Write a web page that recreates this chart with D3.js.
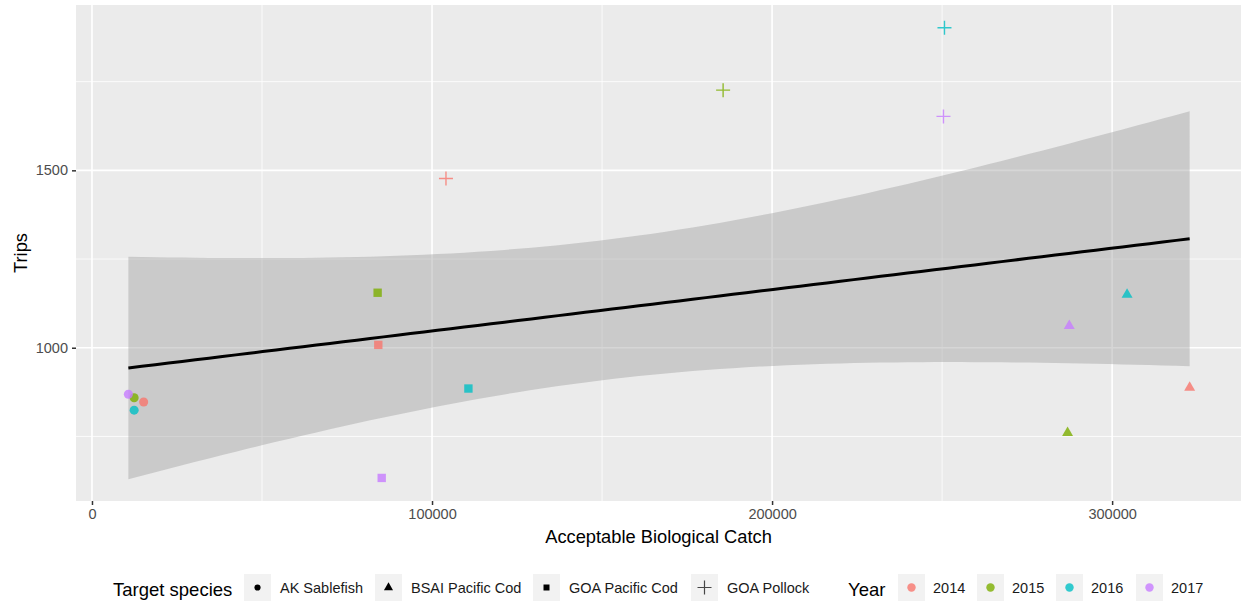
<!DOCTYPE html>
<html>
<head>
<meta charset="utf-8">
<script src="https://cdn.jsdelivr.net/npm/d3@7"></script>
<style>
  body { margin: 0; background: #fff; }
  svg { display: block; font-family: "Liberation Sans", Arial, sans-serif; }
</style>
</head>
<body>
<svg id="chart" width="1241" height="607"></svg>
<script>
// data
const species = ['AK Sablefish', 'BSAI Pacific Cod', 'GOA Pacific Cod', 'GOA Pollock'];
const years = ['2014', '2015', '2016', '2017'];
const yearColors = ['#F8766D', '#7CAE00', '#00BFC4', '#C77CFF'];

// one array per species, ordered by year 2014..2017
const abcSablefish = [15200, 12400, 12400, 10700];
const tripsSablefish = [847, 859, 824, 869];
const abcBsaiCod = [322800, 286900, 304400, 287400];
const tripsBsaiCod = [888, 760, 1150, 1062];
const abcGoaCod = [84200, 84000, 110700, 85200];
const tripsGoaCod = [1008, 1155, 885, 633];
const abcPollock = [104100, 185600, 250700, 250400];
const tripsPollock = [1477, 1726, 1902, 1652];

const xTicks = [0, 100000, 200000, 300000];
const yTicks = [1000, 1500];
const xMinor = [50000, 150000, 250000];
const yMinor = [750, 1250, 1750];

const abcBySpecies = [abcSablefish, abcBsaiCod, abcGoaCod, abcPollock];
const tripsBySpecies = [tripsSablefish, tripsBsaiCod, tripsGoaCod, tripsPollock];

let points = [];
species.forEach(function(s, i) {
	years.forEach(function(y, j) {
		points.push({species: s, year: y, x: abcBySpecies[i][j], y: tripsBySpecies[i][j]});
	});
});

const panel = {left: 76, right: 1241, top: 5, bottom: 501};

const x = d3.scaleLinear().domain([-4700, 337900]).range([panel.left, panel.right]);
const y = d3.scaleLinear().domain([568, 1966]).range([panel.bottom, panel.top]);

const color = d3.scaleOrdinal().domain(years).range(yearColors);
const shape = d3.scaleOrdinal().domain(species)
	.range([d3.symbolCircle, d3.symbolTriangle, d3.symbolSquare, null]);

const svg = d3.select('#chart');

// panel
svg.append('rect')
	.attr('x', panel.left).attr('y', panel.top)
	.attr('width', panel.right - panel.left).attr('height', panel.bottom - panel.top)
	.attr('fill', '#EBEBEB');

const grid = svg.append('g');

grid.selectAll('.xminor').data(xMinor).enter().append('line')
	.attr('x1', d => x(d)).attr('x2', d => x(d))
	.attr('y1', panel.top).attr('y2', panel.bottom)
	.attr('stroke', '#fff').attr('stroke-width', 0.8);
grid.selectAll('.yminor').data(yMinor).enter().append('line')
	.attr('y1', d => y(d)).attr('y2', d => y(d))
	.attr('x1', panel.left).attr('x2', panel.right)
	.attr('stroke', '#fff').attr('stroke-width', 0.8);
grid.selectAll('.xmajor').data(xTicks).enter().append('line')
	.attr('x1', d => x(d)).attr('x2', d => x(d))
	.attr('y1', panel.top).attr('y2', panel.bottom)
	.attr('stroke', '#fff').attr('stroke-width', 1.6);
grid.selectAll('.ymajor').data(yTicks).enter().append('line')
	.attr('y1', d => y(d)).attr('y2', d => y(d))
	.attr('x1', panel.left).attr('x2', panel.right)
	.attr('stroke', '#fff').attr('stroke-width', 1.6);

// linear fit with 95% confidence band (like geom_smooth(method = "lm"))
const n = points.length;
const xbar = d3.mean(points, d => d.x);
const ybar = d3.mean(points, d => d.y);
const sxx = d3.sum(points, d => (d.x - xbar) * (d.x - xbar));
const sxy = d3.sum(points, d => (d.x - xbar) * (d.y - ybar));
const slope = sxy / sxx;
const intercept = ybar - slope * xbar;
const rss = d3.sum(points, d => Math.pow(d.y - intercept - slope * d.x, 2));
const sigma = Math.sqrt(rss / (n - 2));
const tCrit = 2.144787; // qt(0.975, 14)

const xExtent = d3.extent(points, d => d.x);
const fit = d3.range(80).map(function(i) {
	let xv = xExtent[0] + (xExtent[1] - xExtent[0]) * i / 79;
	let fitted = intercept + slope * xv;
	let se = sigma * Math.sqrt(1 / n + (xv - xbar) * (xv - xbar) / sxx);
	return {x: xv, y: fitted, lo: fitted - tCrit * se, hi: fitted + tCrit * se};
});

svg.append('path')
	.datum(fit)
	.attr('d', d3.area().x(d => x(d.x)).y0(d => y(d.lo)).y1(d => y(d.hi)))
	.attr('fill', '#999999').attr('fill-opacity', 0.4);

svg.append('path')
	.datum(fit)
	.attr('d', d3.line().x(d => x(d.x)).y(d => y(d.y)))
	.attr('fill', 'none').attr('stroke', '#000').attr('stroke-width', 3);

// points
svg.append('g').selectAll('.pt').data(points).enter().append('path')
	.attr('transform', d => 'translate(' + x(d.x) + ',' + y(d.y) + ')')
	.attr('opacity', 0.8)
	.attr('d', function(d) {
		if (d.species == 'GOA Pollock') {
			return 'M-7,0H7M0,-7V7';
		}
		let size = d.species == 'AK Sablefish' ? 64 : (d.species == 'BSAI Pacific Cod' ? 52 : 70);
		return d3.symbol().type(shape(d.species)).size(size)();
	})
	.attr('fill', d => d.species == 'GOA Pollock' ? 'none' : color(d.year))
	.attr('stroke', d => d.species == 'GOA Pollock' ? color(d.year) : 'none')
	.attr('stroke-width', 1.4);

// axes
const xAxis = svg.append('g')
	.attr('transform', 'translate(0,' + panel.bottom + ')')
	.call(d3.axisBottom(x).tickValues(xTicks).tickFormat(d3.format('d')).tickSize(4).tickPadding(4));
const yAxis = svg.append('g')
	.attr('transform', 'translate(' + panel.left + ',0)')
	.call(d3.axisLeft(y).tickValues(yTicks).tickFormat(d3.format('d')).tickSize(4).tickPadding(4));

[xAxis, yAxis].forEach(function(a) {
	a.select('.domain').remove();
	a.selectAll('.tick line').attr('stroke', '#333').attr('stroke-width', 1.5);
	a.selectAll('.tick text').attr('fill', '#4D4D4D').style('font-size', '14.5px');
});

svg.append('text')
	.attr('x', (panel.left + panel.right) / 2).attr('y', 543)
	.attr('text-anchor', 'middle')
	.style('font-size', '18.3px')
	.text('Acceptable Biological Catch');

svg.append('text')
	.attr('transform', 'translate(27,' + (panel.top + panel.bottom) / 2 + ') rotate(-90)')
	.attr('text-anchor', 'middle')
	.style('font-size', '18.3px')
	.text('Trips');

// legends
const keyTop = 574;
const keySize = 27;

const leg = svg.append('g');

leg.append('text')
	.attr('x', 113).attr('y', 596)
	.style('font-size', '18.5px')
	.text('Target species');

const speciesKeyX = [244, 375, 533, 691];
species.forEach(function(s, i) {
	let g = leg.append('g').attr('transform', 'translate(' + speciesKeyX[i] + ',' + keyTop + ')');
	g.append('rect').attr('width', keySize).attr('height', keySize).attr('fill', '#F2F2F2');
	if (s == 'GOA Pollock') {
		g.append('path').attr('d', 'M6.5,13.5H20.5M13.5,6.5V20.5')
			.attr('stroke', '#000').attr('stroke-width', 1.2).attr('opacity', 0.7);
	} else {
		g.append('path')
			.attr('transform', 'translate(13.5,13.5)')
			.attr('d', d3.symbol().type(shape(s)).size(s == 'AK Sablefish' ? 30 : 36)())
			.attr('fill', '#000');
	}
	g.append('text')
		.attr('x', keySize + 9).attr('y', 19)
		.style('font-size', '14.5px')
		.attr('fill', '#1a1a1a')
		.text(s);
});

leg.append('text')
	.attr('x', 848).attr('y', 596)
	.style('font-size', '18.5px')
	.text('Year');

const yearKeyX = [898, 977, 1056, 1136];
years.forEach(function(yr, i) {
	let g = leg.append('g').attr('transform', 'translate(' + yearKeyX[i] + ',' + keyTop + ')');
	g.append('rect').attr('width', keySize).attr('height', keySize).attr('fill', '#F2F2F2');
	g.append('circle').attr('cx', 13.5).attr('cy', 13.5).attr('r', 4.2).attr('fill', color(yr)).attr('opacity', 0.8);
	g.append('text')
		.attr('x', keySize + 8).attr('y', 19)
		.style('font-size', '14.5px')
		.attr('fill', '#1a1a1a')
		.text(yr);
});
</script>
</body>
</html>
